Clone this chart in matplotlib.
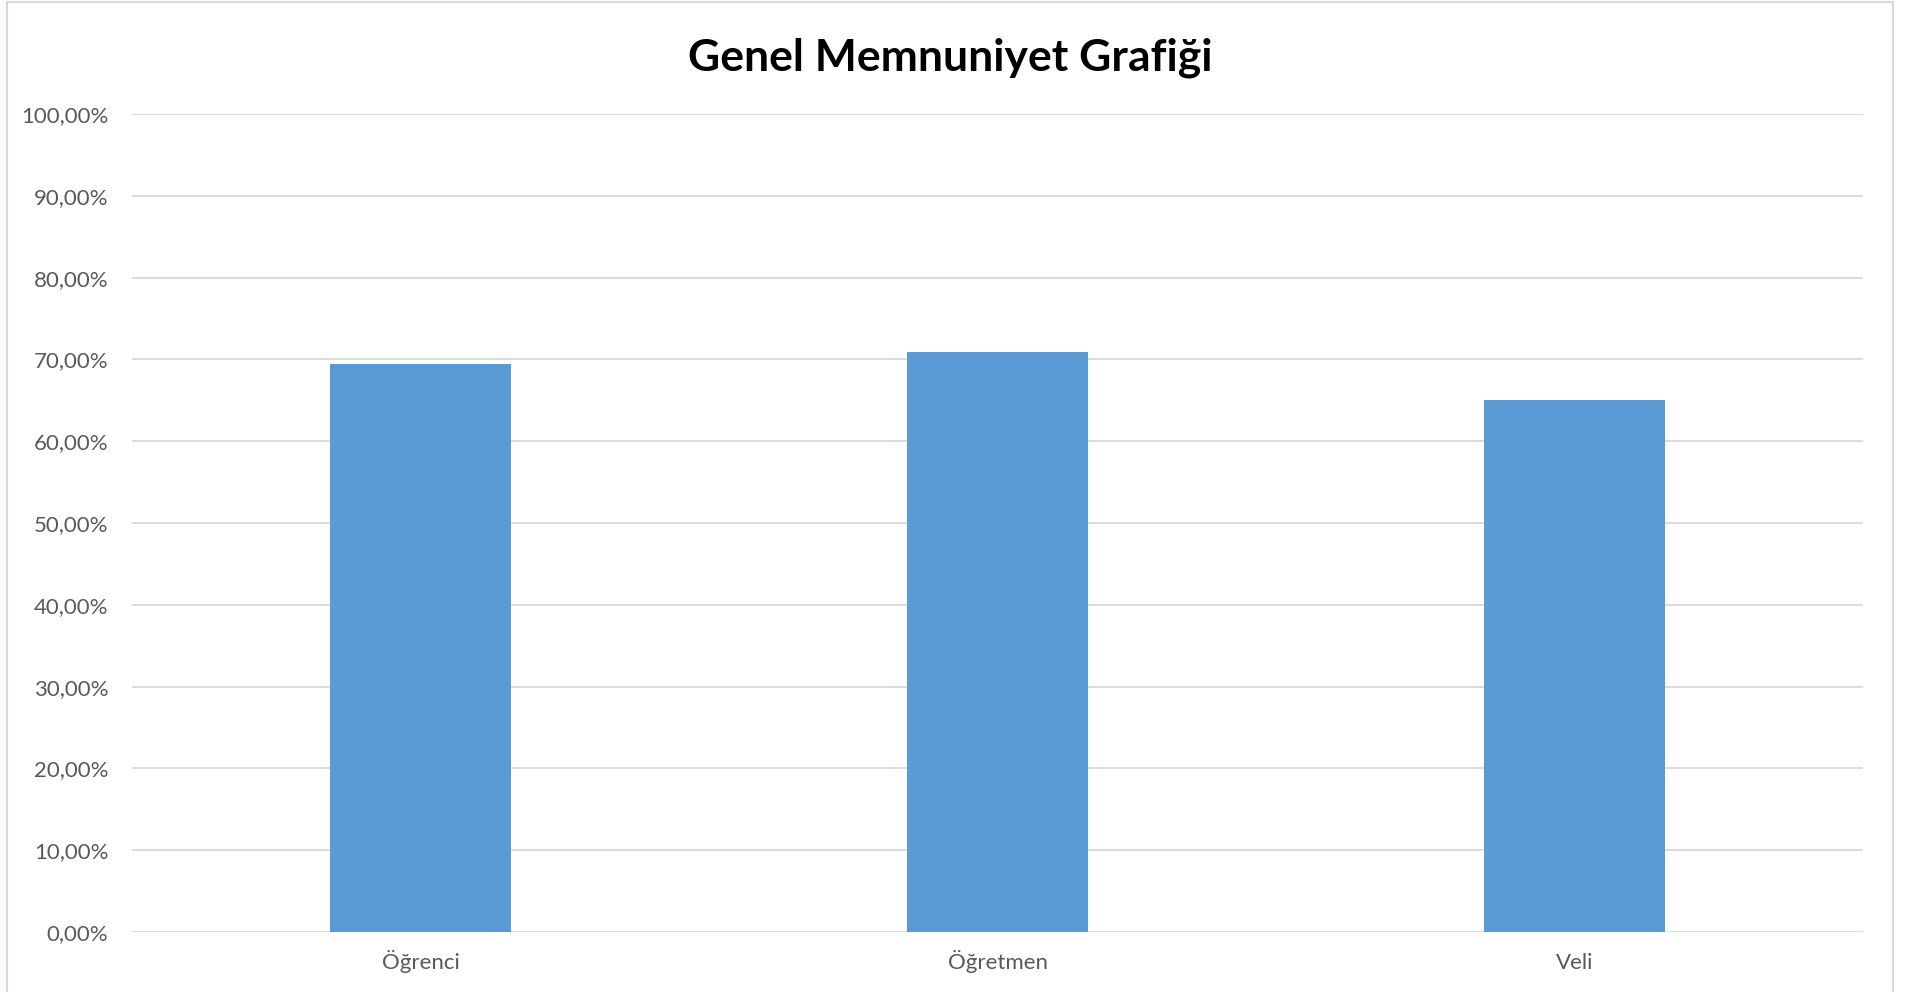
import matplotlib.pyplot as plt
from matplotlib.patches import Rectangle
from matplotlib.ticker import FuncFormatter, MultipleLocator

categories = ["Öğrenci", "Öğretmen", "Veli"]
satisfaction = [69.5, 70.9, 65.0]

plt.rcParams['font.family'] = ['Lato', 'DejaVu Sans']

fig = plt.figure(figsize=(19.05, 9.92), dpi=100)
ax = fig.add_axes([0.0693, 0.0605, 0.9087, 0.8245])

# outer chart border like the spreadsheet chart area
fig.patches.append(Rectangle((7 / 1905, -0.01), 1886 / 1905, 1.008, transform=fig.transFigure,
                             fill=False, edgecolor='#d9d9d9', linewidth=1.5))

x = range(len(categories))
ax.bar(x, satisfaction, width=0.313, color='#5b9bd5', zorder=3)

ax.set_xlim(-0.5, len(categories) - 0.5)
ax.set_ylim(0, 100)
ax.yaxis.set_major_locator(MultipleLocator(10))
ax.yaxis.set_major_formatter(FuncFormatter(lambda v, p: f"{v:.2f}%".replace('.', ',')))
ax.set_xticks(list(x))
ax.set_xticklabels(categories)

ax.grid(axis='y', color='#d9d9d9', linewidth=1.3, zorder=0)
for s in ax.spines.values():
    s.set_visible(False)
ax.tick_params(axis='both', length=0, labelsize=16, labelcolor='#595959')
ax.tick_params(axis='y', pad=17)
ax.tick_params(axis='x', pad=27)
for lab in ax.get_xticklabels():
    lab.set_va('baseline')

fig.text(0.499, 0.929, "Genel Memnuniyet Grafiği", ha='center', va='baseline',
         fontsize=32, fontweight='bold', color='black')

fig.savefig('out.png', dpi=100, facecolor='white')
